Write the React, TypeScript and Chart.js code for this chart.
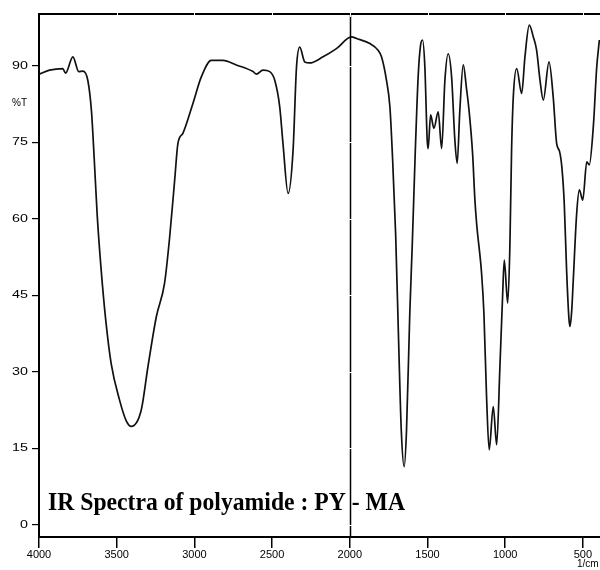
import React, { useEffect, useRef } from "react";
import { Chart, registerables } from "chart.js";

Chart.register(...registerables);

// Wavenumber (1/cm) and transmittance (%T)
const WAVENUMBERS = [
  4000, 3932, 3847, 3829, 3782, 3744, 3718, 3686, 3662, 3645, 3625, 3600, 3570, 3535, 3482, 3440,
  3406, 3342, 3299, 3245, 3192, 3159, 3127, 3106, 3074, 3009, 2955, 2891, 2816, 2730, 2623, 2601,
  2559, 2515, 2483, 2451, 2430, 2397, 2365, 2343, 2322, 2290, 2258, 2172, 2086, 1989, 1957, 1871,
  1818, 1796, 1764, 1742, 1725, 1705, 1685, 1668, 1650, 1635, 1614, 1598, 1580, 1560, 1545, 1532,
  1517, 1502, 1496, 1480, 1459, 1431, 1409, 1388, 1367, 1345, 1324, 1309, 1292, 1270, 1248, 1234,
  1210, 1195, 1184, 1152, 1137, 1120, 1103, 1077, 1055, 1034, 1017, 1006, 984, 970, 959, 948,
  926, 894, 873, 845, 819, 798, 776, 755, 718, 691, 669, 650, 635, 620, 605, 590,
  583, 572, 562, 540, 523, 501, 475, 459, 433, 411, 394,
];
const TRANSMITTANCE = [
  88.4, 89.2, 89.5, 88.6, 91.8, 88.9, 89.0, 87.2, 81.0, 72.0, 60.5, 50.0, 40.0, 31.5, 24.5, 20.5,
  19.3, 22.5, 31.0, 40.8, 47.4, 56.5, 67.6, 74.8, 76.8, 82.7, 87.9, 91.1, 91.1, 90.2, 88.9, 88.4,
  89.2, 88.9, 87.2, 82.0, 74.8, 65.0, 73.5, 89.8, 93.7, 90.8, 90.6, 91.8, 93.4, 95.7, 95.4, 94.4,
  93.1, 91.8, 87.2, 82.0, 72.0, 57.0, 35.0, 18.0, 11.4, 18.6, 41.5, 55.0, 72.0, 88.0, 94.0, 95.1,
  89.8, 75.5, 73.8, 80.4, 77.8, 81.0, 73.8, 87.2, 92.4, 87.9, 75.5, 70.9, 81.3, 90.2, 85.3, 81.7,
  72.9, 63.7, 59.1, 49.3, 41.5, 25.1, 14.7, 23.2, 15.7, 31.0, 44.7, 51.9, 43.5, 54.5, 73.5, 83.9,
  89.5, 84.6, 91.8, 98.0, 95.7, 93.1, 87.2, 83.3, 90.8, 83.9, 74.8, 73.2, 70.0, 63.0, 50.0, 40.5,
  38.9, 42.0, 48.0, 61.1, 65.7, 63.7, 71.2, 70.6, 78.1, 89.8, 95.1,
];

const X_TICKS = [4000, 3500, 3000, 2500, 2000, 1500, 1000, 500];
const Y_TICKS = [0, 15, 30, 45, 60, 75, 90];
const X_MIN = 390;
const X_MAX = 4000;
const Y_MIN = -2.4;
const Y_MAX = 100.2;
const DIVIDER = 2000;

const TITLE = "IR Spectra of polyamide : PY - MA";
const Y_UNIT = "%T";
const X_UNIT = "1/cm";

const framePlugin = {
  id: "frame",
  afterDraw(chart: any) {
    const { ctx, chartArea, scales } = chart;
    const xs = scales.x;
    const ys = scales.y;
    ctx.save();
    // top border
    ctx.strokeStyle = "#000";
    ctx.lineWidth = 2;
    ctx.beginPath();
    ctx.moveTo(chartArea.left - 1, chartArea.top);
    ctx.lineTo(chartArea.right, chartArea.top);
    ctx.stroke();
    // divider line
    const dx = Math.round(xs.getPixelForValue(DIVIDER)) + 0.5;
    ctx.lineWidth = 1.5;
    ctx.beginPath();
    ctx.moveTo(dx, chartArea.top);
    ctx.lineTo(dx, chartArea.bottom);
    ctx.stroke();
    // white inner tick marks
    ctx.strokeStyle = "#fff";
    ctx.lineWidth = 1;
    X_TICKS.forEach((v) => {
      if (v === X_MAX) return;
      const px = Math.round(xs.getPixelForValue(v)) + 0.5;
      ctx.beginPath();
      ctx.moveTo(px, chartArea.top - 2);
      ctx.lineTo(px, chartArea.top + 3);
      ctx.stroke();
    });
    Y_TICKS.forEach((v) => {
      const py = Math.round(ys.getPixelForValue(v)) + 0.5;
      ctx.beginPath();
      ctx.moveTo(dx - 2, py);
      ctx.lineTo(dx + 3, py);
      ctx.stroke();
    });
    ctx.fillStyle = "#000";
    // y tick labels (horizontally widened like the reference)
    ctx.font = '11px "Liberation Sans", Arial, sans-serif';
    ctx.textBaseline = "middle";
    ctx.textAlign = "right";
    Y_TICKS.forEach((v) => {
      const py = ys.getPixelForValue(v);
      ctx.save();
      ctx.translate(28, py);
      ctx.scale(1.3, 1);
      ctx.fillText(String(v), 0, 0);
      ctx.restore();
    });
    // title
    ctx.font = 'bold 26px "Liberation Serif", "DejaVu Serif", serif';
    ctx.textBaseline = "alphabetic";
    ctx.textAlign = "left";
    const w = ctx.measureText(TITLE).width;
    const sx = 357 / w;
    ctx.save();
    ctx.translate(48, 510);
    ctx.scale(sx, 1);
    ctx.fillText(TITLE, 0, 0);
    ctx.restore();
    // unit labels
    ctx.font = '10px "Liberation Sans", Arial, sans-serif';
    ctx.textBaseline = "middle";
    ctx.textAlign = "center";
    ctx.fillText(Y_UNIT, 19.5, 103);
    ctx.textAlign = "left";
    ctx.fillText(X_UNIT, 577, 564);
    ctx.restore();
  },
};

export default function App() {
  const canvasRef = useRef<HTMLCanvasElement | null>(null);

  useEffect(() => {
    const canvas = canvasRef.current;
    if (!canvas) return;
    const points = WAVENUMBERS.map((x, i) => ({ x, y: TRANSMITTANCE[i] }));
    const tickFont = { family: '"Liberation Sans", Arial, sans-serif', size: 11 };
    const chart = new Chart(canvas, {
      type: "line",
      data: {
        datasets: [
          {
            data: points,
            borderColor: "#111",
            borderWidth: 1.7,
            pointRadius: 0,
            cubicInterpolationMode: "monotone",
            fill: false,
          },
        ],
      },
      options: {
        animation: false,
        responsive: false,
        maintainAspectRatio: false,
        layout: { padding: { top: 14, left: 0, right: 0, bottom: 0 } },
        plugins: { legend: { display: false }, tooltip: { enabled: false }, title: { display: false } },
        scales: {
          x: {
            type: "linear",
            reverse: true,
            min: X_MIN,
            max: X_MAX,
            afterBuildTicks: (s: any) => {
              s.ticks = X_TICKS.map((v) => ({ value: v }));
            },
            afterFit: (s: any) => {
              s.height = 33;
            },
            grid: {
              display: true,
              drawOnChartArea: false,
              drawTicks: true,
              tickLength: 11,
              color: "#000",
              lineWidth: 1.5,
            },
            border: { display: true, color: "#000", width: 2 },
            ticks: {
              font: tickFont,
              color: "#000",
              padding: 0,
              maxRotation: 0,
              autoSkip: false,
              callback: (v: any) => String(v),
            },
          },
          y: {
            type: "linear",
            min: Y_MIN,
            max: Y_MAX,
            afterBuildTicks: (s: any) => {
              s.ticks = Y_TICKS.map((v) => ({ value: v }));
            },
            afterFit: (s: any) => {
              s.width = 39;
            },
            grid: {
              display: true,
              drawOnChartArea: false,
              drawTicks: true,
              tickLength: 7,
              color: "#000",
              lineWidth: 1.2,
            },
            border: { display: true, color: "#000", width: 2 },
            ticks: {
              display: false,
              autoSkip: false,
            },
          },
        },
      },
      plugins: [framePlugin],
    });
    return () => chart.destroy();
  }, []);

  return (
    <div style={{ position: "absolute", left: 0, top: 0, width: 600, height: 570, background: "#fff" }}>
      <canvas ref={canvasRef} width={600} height={570} style={{ display: "block" }} />
    </div>
  );
}
